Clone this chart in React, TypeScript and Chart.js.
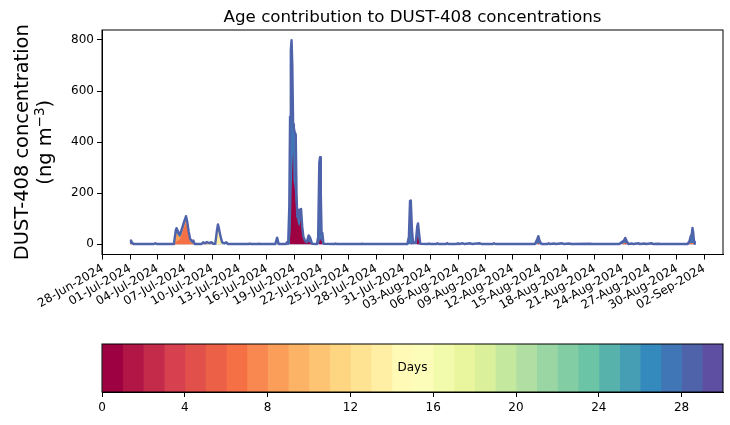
import React, { useEffect, useRef } from 'react';
import { Chart, registerables } from 'chart.js';

Chart.register(...registerables);

type Pt = [string, number] | null;

const TITLE = 'Age contribution to DUST-408 concentrations';
const Y_TITLE = 'DUST-408 concentration';
const Y_UNIT_MAIN = '(ng m';
const Y_UNIT_SUP = '\u22123';
const Y_UNIT_END = ')';
const CBAR_LABEL = 'Days';
const FONT = '"DejaVu Sans", sans-serif';

const X_TICK_LABELS = [
  '28-Jun-2024', '01-Jul-2024', '04-Jul-2024', '07-Jul-2024', '10-Jul-2024', '13-Jul-2024',
  '16-Jul-2024', '19-Jul-2024', '22-Jul-2024', '25-Jul-2024', '28-Jul-2024', '31-Jul-2024',
  '03-Aug-2024', '06-Aug-2024', '09-Aug-2024', '12-Aug-2024', '15-Aug-2024', '18-Aug-2024',
  '21-Aug-2024', '24-Aug-2024', '27-Aug-2024', '30-Aug-2024', '02-Sep-2024',
];
const Y_TICKS = [0, 200, 400, 600, 800];
const CBAR_TICKS = [0, 4, 8, 12, 16, 20, 24, 28];
const N_AGE = 30;

// Total concentration (time 'MM-DD HH' in 2024, value ng m-3)
const TOTAL: Pt[] = [
  ['07-01 00', 6], ['07-01 02', 15], ['07-01 05', 6], ['07-01 09', 1],
  ['07-03 14', 1], ['07-03 18', 4], ['07-03 22', 1],
  ['07-05 19', 1], ['07-06 00', 55], ['07-06 02', 63], ['07-06 06', 50], ['07-06 11', 38],
  ['07-06 16', 60], ['07-06 21', 85], ['07-07 03', 110], ['07-07 06', 90], ['07-07 10', 49],
  ['07-07 14', 20], ['07-07 19', 12], ['07-07 22', 15], ['07-08 02', 1],
  ['07-08 20', 1], ['07-09 00', 8], ['07-09 05', 4], ['07-09 10', 9], ['07-09 16', 5],
  ['07-09 22', 8], ['07-10 03', 2], ['07-10 08', 2], ['07-10 12', 50], ['07-10 15', 78],
  ['07-10 18', 60], ['07-10 21', 36], ['07-11 02', 8], ['07-11 08', 4], ['07-11 13', 8],
  ['07-11 18', 1],
  ['07-14 00', 1], ['07-14 03', 3], ['07-14 06', 1],
  ['07-15 00', 1], ['07-15 03', 2], ['07-15 06', 1],
  ['07-16 22', 1], ['07-17 03', 26], ['07-17 07', 1],
  ['07-18 02', 1], ['07-18 05', 8], ['07-18 08', 2], ['07-18 11', 150], ['07-18 13', 500],
  ['07-18 15', 760], ['07-18 17', 799], ['07-18 19', 700], ['07-18 21', 470], ['07-18 23', 455],
  ['07-19 01', 440], ['07-19 04', 430], ['07-19 06', 200], ['07-19 08', 107], ['07-19 10', 115],
  ['07-19 13', 135], ['07-19 15', 100], ['07-19 18', 138], ['07-19 21', 70], ['07-20 00', 30],
  ['07-20 04', 15], ['07-20 09', 8], ['07-20 14', 35], ['07-20 18', 25], ['07-20 23', 2],
  ['07-21 12', 1], ['07-21 15', 30], ['07-21 18', 320], ['07-21 20', 341], ['07-21 22', 200],
  ['07-22 00', 40], ['07-22 02', 45], ['07-22 05', 2],
  ['07-23 10', 1], ['07-23 13', 3], ['07-23 16', 1],
  ['07-26 08', 1], ['07-26 11', 2], ['07-26 14', 1],
  ['07-31 10', 1], ['07-31 14', 30], ['07-31 17', 170], ['07-31 19', 172], ['07-31 22', 60],
  ['08-01 01', 5], ['08-01 08', 8], ['08-01 12', 70], ['08-01 14', 82], ['08-01 17', 40],
  ['08-01 20', 2],
  ['08-02 16', 1], ['08-02 19', 3], ['08-02 22', 1],
  ['08-03 14', 1], ['08-03 17', 4], ['08-03 20', 1],
  ['08-04 16', 1], ['08-04 19', 5], ['08-04 22', 1],
  ['08-05 20', 1], ['08-05 23', 4], ['08-06 02', 1], ['08-06 12', 4], ['08-06 16', 1],
  ['08-07 03', 3], ['08-07 08', 4], ['08-07 12', 1], ['08-08 09', 4], ['08-08 13', 1],
  ['08-09 19', 1], ['08-09 22', 4], ['08-10 02', 1],
  ['08-14 10', 1], ['08-14 16', 20], ['08-14 19', 32], ['08-14 22', 15], ['08-15 03', 1],
  ['08-15 19', 1], ['08-15 22', 4], ['08-16 01', 1], ['08-16 14', 3], ['08-16 17', 1],
  ['08-17 10', 4], ['08-17 14', 1], ['08-18 06', 3], ['08-18 09', 1],
  ['08-20 12', 2], ['08-20 15', 1],
  ['08-23 16', 1], ['08-23 22', 8], ['08-24 04', 14], ['08-24 08', 25], ['08-24 12', 12],
  ['08-24 16', 1],
  ['08-25 02', 3], ['08-25 05', 1], ['08-25 19', 4], ['08-25 22', 1], ['08-26 12', 3],
  ['08-26 15', 1], ['08-27 06', 4], ['08-27 09', 1], ['08-28 00', 2], ['08-28 03', 1],
  ['08-31 04', 1], ['08-31 09', 12], ['08-31 12', 30], ['08-31 15', 40], ['08-31 17', 64],
  ['08-31 19', 45], ['08-31 21', 10], ['08-31 23', 2],
];

// Cumulative top of the youngest ages (0-1 days)
const AGE_0_1: Pt[] = [
  ['07-18 12', 0], ['07-18 15', 60], ['07-18 17', 200], ['07-18 19', 300], ['07-18 21', 362],
  ['07-18 22', 250], ['07-19 01', 220], ['07-19 04', 160], ['07-19 07', 108], ['07-19 10', 80],
  ['07-19 13', 70], ['07-19 16', 85], ['07-19 18', 102], ['07-19 21', 40], ['07-20 00', 20],
  ['07-20 06', 8], ['07-20 12', 12], ['07-20 18', 6], ['07-20 23', 0],
  null,
  ['07-21 17', 0], ['07-21 20', 22], ['07-22 00', 12], ['07-22 03', 0],
  null,
  ['07-31 18', 0], ['07-31 20', 5], ['07-31 22', 0],
  null,
  ['08-01 10', 0], ['08-01 13', 32], ['08-01 15', 25], ['08-01 18', 0],
  null,
  ['08-14 16', 0], ['08-14 18', 4], ['08-14 21', 0],
  null,
  ['08-24 06', 0], ['08-24 08', 3], ['08-24 10', 0],
];

// Cumulative top up to ~6 days
const AGE_6: Pt[] = [
  ['07-01 00', 2], ['07-01 02', 3], ['07-01 05', 1], ['07-01 09', 0],
  null,
  ['07-05 20', 0], ['07-06 00', 10], ['07-06 06', 15], ['07-06 11', 20], ['07-06 16', 38],
  ['07-06 21', 62], ['07-07 03', 85], ['07-07 06', 65], ['07-07 10', 30], ['07-07 14', 8],
  ['07-08 00', 0],
  null,
  ['08-14 15', 0], ['08-14 19', 6], ['08-14 22', 0],
  null,
  ['08-23 22', 0], ['08-24 04', 5], ['08-24 08', 6], ['08-24 12', 3], ['08-24 16', 0],
  null,
  ['08-31 06', 0], ['08-31 09', 4], ['08-31 15', 5], ['08-31 19', 6], ['08-31 23', 2],
];

// Cumulative top up to ~8 days
const AGE_8: Pt[] = [
  ['07-01 00', 4], ['07-01 02', 5], ['07-01 05', 2], ['07-01 09', 0],
  null,
  ['07-05 20', 0], ['07-06 00', 40], ['07-06 02', 45], ['07-06 06', 35], ['07-06 11', 28],
  ['07-06 16', 45], ['07-06 21', 70], ['07-07 03', 95], ['07-07 06', 75], ['07-07 10', 38],
  ['07-07 14', 12], ['07-07 19', 4], ['07-08 02', 0],
  null,
  ['07-08 22', 0], ['07-09 00', 4], ['07-09 05', 2], ['07-09 10', 5], ['07-09 16', 3],
  ['07-09 22', 4], ['07-10 03', 0],
];

// Cumulative top up to ~13 days
const AGE_13: Pt[] = [
  ['07-10 09', 0], ['07-10 12', 35], ['07-10 15', 62], ['07-10 18', 45], ['07-10 21', 25],
  ['07-11 02', 3], ['07-11 04', 0],
  null,
  ['07-16 23', 0], ['07-17 02', 6], ['07-17 05', 0],
  null,
  ['07-18 03', 0], ['07-18 05', 3], ['07-18 07', 0],
];

const SPECTRAL = ['#9e0142', '#d53e4f', '#f46d43', '#fdae61', '#fee08b', '#ffffbf',
  '#e6f598', '#abdda4', '#66c2a5', '#3288bd', '#5e4fa2'];

function spectral(t: number): string {
  const p = Math.max(0, Math.min(1, t)) * (SPECTRAL.length - 1);
  const i = Math.min(SPECTRAL.length - 2, Math.floor(p));
  const f = p - i;
  const a = SPECTRAL[i], b = SPECTRAL[i + 1];
  const ch = (h: string, k: number) => parseInt(h.slice(1 + 2 * k, 3 + 2 * k), 16);
  const c = [0, 1, 2].map((k) => Math.round(ch(a, k) + (ch(b, k) - ch(a, k)) * f));
  return `rgb(${c[0]},${c[1]},${c[2]})`;
}

const MONTHS = ['Jan', 'Feb', 'Mar', 'Apr', 'May', 'Jun', 'Jul', 'Aug', 'Sep', 'Oct', 'Nov', 'Dec'];
const ORIGIN = Date.UTC(2024, 5, 28);
const DAY = 86400000;

function timeToDays(s: string): number {
  const [md, hh] = s.split(' ');
  const [mm, dd] = md.split('-').map(Number);
  return (Date.UTC(2024, mm - 1, dd, Number(hh)) - ORIGIN) / DAY;
}
function labelToDays(s: string): number {
  const [dd, mon, yy] = s.split('-');
  return (Date.UTC(Number(yy), MONTHS.indexOf(mon), Number(dd)) - ORIGIN) / DAY;
}
function toData(pts: Pt[]) {
  let last = 0;
  return pts.map((p) => {
    if (p === null) return { x: last, y: null as number | null };
    last = timeToDays(p[0]);
    return { x: last, y: p[1] as number | null };
  });
}

const LINE_COLOR = spectral(28 / 29);
const FILL_COLOR = spectral(27 / 29);
const TICK_SIZE = 12;

export default function App() {
  const mainRef = useRef<HTMLCanvasElement>(null);
  const cbarRef = useRef<HTMLCanvasElement>(null);

  useEffect(() => {
    const totalData = toData(TOTAL);
    const xs = totalData.map((d) => d.x);
    const ys = totalData.map((d) => d.y as number);
    const xMin0 = Math.min(...xs), xMax0 = Math.max(...xs);
    const yMin0 = Math.min(0, ...ys), yMax0 = Math.max(...ys);
    const xm = (xMax0 - xMin0) * 0.05, ym = (yMax0 - yMin0) * 0.05;
    const tickDays = X_TICK_LABELS.map(labelToDays);

    const decor = {
      id: 'decor',
      afterDraw(chart: any) {
        const { ctx, chartArea: a } = chart;
        ctx.save();
        ctx.strokeStyle = '#000';
        ctx.lineWidth = 1;
        ctx.strokeRect(a.left, a.top, a.right - a.left, a.bottom - a.top);
        ctx.fillStyle = '#000';
        ctx.font = `16.7px ${FONT}`;
        ctx.textAlign = 'center';
        ctx.textBaseline = 'alphabetic';
        ctx.fillText(TITLE, (a.left + a.right) / 2, a.top - 8);
        const cy = (a.top + a.bottom) / 2;
        ctx.save();
        ctx.translate(27.5, cy);
        ctx.rotate(-Math.PI / 2);
        ctx.font = `19.4px ${FONT}`;
        ctx.fillText(Y_TITLE, 0, 0);
        ctx.restore();
        ctx.save();
        ctx.translate(51, cy);
        ctx.rotate(-Math.PI / 2);
        ctx.textAlign = 'left';
        ctx.font = `19.4px ${FONT}`;
        const w1 = ctx.measureText(Y_UNIT_MAIN).width;
        const w3 = ctx.measureText(Y_UNIT_END).width;
        ctx.font = `13.6px ${FONT}`;
        const w2 = ctx.measureText(Y_UNIT_SUP).width;
        const x0 = -(w1 + w2 + w3) / 2;
        ctx.font = `19.4px ${FONT}`;
        ctx.fillText(Y_UNIT_MAIN, x0, 0);
        ctx.fillText(Y_UNIT_END, x0 + w1 + w2, 0);
        ctx.font = `13.6px ${FONT}`;
        ctx.fillText(Y_UNIT_SUP, x0 + w1, -7.5);
        ctx.restore();
        ctx.restore();
      },
    };

    const layer = (pts: Pt[], color: string, order: number) => ({
      data: toData(pts),
      backgroundColor: color,
      borderColor: 'rgba(0,0,0,0)',
      borderWidth: 0,
      fill: 'origin',
      order,
      spanGaps: false,
    });

    const main = new Chart(mainRef.current as HTMLCanvasElement, {
      type: 'line',
      data: {
        datasets: [
          { data: totalData, borderColor: LINE_COLOR, borderWidth: 2.4, fill: false, order: 0 } as any,
          layer(AGE_0_1, spectral(0), 1),
          layer(AGE_6, spectral(6 / 29), 2),
          layer(AGE_8, spectral(8 / 29), 3),
          layer(AGE_13, spectral(13 / 29), 4),
          layer(TOTAL, FILL_COLOR, 5),
        ],
      },
      options: {
        responsive: false,
        animation: false,
        layout: { padding: { top: 30, right: 7, left: 0, bottom: 0 } },
        elements: {
          point: { radius: 0, hitRadius: 0 },
          line: { tension: 0, borderJoinStyle: 'round', borderCapStyle: 'butt' },
        },
        plugins: { legend: { display: false }, tooltip: { enabled: false }, title: { display: false } },
        scales: {
          x: {
            type: 'linear',
            min: xMin0 - xm,
            max: xMax0 + xm,
            bounds: 'data',
            afterBuildTicks: (s: any) => { s.ticks = tickDays.map((v) => ({ value: v })); },
            afterFit: (s: any) => { s.height = 75.5; },
            ticks: {
              autoSkip: false,
              minRotation: 30,
              maxRotation: 30,
              padding: 2,
              color: '#000',
              font: { family: FONT, size: TICK_SIZE },
              callback: (_v: any, i: number) => X_TICK_LABELS[i],
            },
            grid: { drawOnChartArea: false, drawTicks: true, tickLength: 5, color: '#000', lineWidth: 1 },
            border: { display: true, color: '#000', width: 1 },
          },
          y: {
            type: 'linear',
            min: yMin0 - ym,
            max: yMax0 + ym,
            bounds: 'data',
            afterBuildTicks: (s: any) => { s.ticks = Y_TICKS.map((v) => ({ value: v })); },
            afterFit: (s: any) => { s.width = 102; },
            ticks: {
              padding: 3,
              color: '#000',
              font: { family: FONT, size: TICK_SIZE },
              callback: (v: any) => String(v),
            },
            grid: { drawOnChartArea: false, drawTicks: true, tickLength: 5, color: '#000', lineWidth: 1 },
            border: { display: true, color: '#000', width: 1 },
          },
        },
      } as any,
      plugins: [decor],
    });

    const cbarDecor = {
      id: 'cbarDecor',
      afterDraw(chart: any) {
        const { ctx, chartArea: a } = chart;
        ctx.save();
        ctx.strokeStyle = '#000';
        ctx.lineWidth = 1;
        ctx.strokeRect(a.left, a.top, a.right - a.left, a.bottom - a.top);
        ctx.fillStyle = '#000';
        ctx.font = `${TICK_SIZE}px ${FONT}`;
        ctx.textAlign = 'center';
        ctx.textBaseline = 'middle';
        ctx.fillText(CBAR_LABEL, (a.left + a.right) / 2, (a.top + a.bottom) / 2);
        ctx.restore();
      },
    };

    const cbar = new Chart(cbarRef.current as HTMLCanvasElement, {
      type: 'bar',
      data: {
        labels: [CBAR_LABEL],
        datasets: Array.from({ length: N_AGE }, (_, i) => ({
          data: [[i, i + 1]],
          backgroundColor: spectral(i / (N_AGE - 1)),
          borderWidth: 0,
          grouped: false,
          barPercentage: 1,
          categoryPercentage: 1,
        })) as any,
      },
      options: {
        indexAxis: 'y',
        responsive: false,
        animation: false,
        layout: { padding: { top: 14, right: 7, left: 102, bottom: 0 } },
        plugins: { legend: { display: false }, tooltip: { enabled: false } },
        scales: {
          x: {
            type: 'linear',
            min: 0,
            max: N_AGE,
            bounds: 'data',
            afterBuildTicks: (s: any) => { s.ticks = CBAR_TICKS.map((v) => ({ value: v })); },
            afterFit: (s: any) => { s.height = 33; },
            ticks: { padding: 4, color: '#000', font: { family: FONT, size: TICK_SIZE }, callback: (v: any) => String(v) },
            grid: { drawOnChartArea: false, drawTicks: true, tickLength: 5, color: '#000', lineWidth: 1 },
            border: { display: true, color: '#000', width: 1 },
          },
          y: { display: false },
        },
      } as any,
      plugins: [cbarDecor],
    });

    return () => {
      main.destroy();
      cbar.destroy();
    };
  }, []);

  return (
    <div style={{ position: 'fixed', left: 0, top: 0, width: 730, height: 425, background: '#fff' }}>
      <canvas ref={mainRef} width={730} height={330} style={{ position: 'absolute', left: 0, top: 0 }} />
      <canvas ref={cbarRef} width={730} height={95} style={{ position: 'absolute', left: 0, top: 330 }} />
    </div>
  );
}
